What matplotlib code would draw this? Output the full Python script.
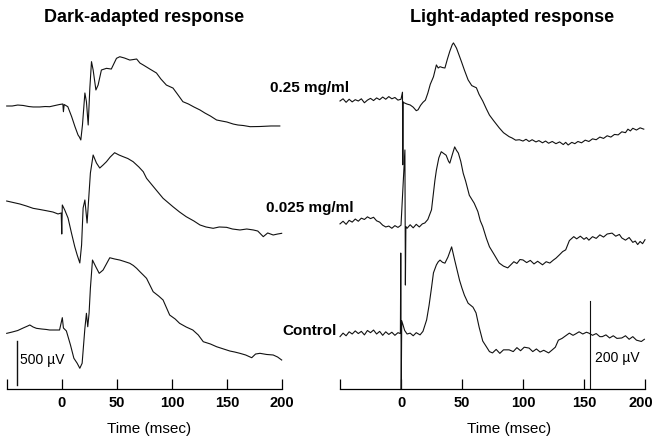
import numpy as np
import matplotlib
matplotlib.use("Agg")
import matplotlib.pyplot as plt
from matplotlib.transforms import offset_copy

plt.rcParams['font.family'] = ['Liberation Sans', 'DejaVu Sans']

# ---- dark-adapted traces (time in ms, response in uV relative to baseline) ----
dark_hi_t = [-50, -45, -40, -35, -30, -26, -20, -15, -11, -6, -2, 1, 1.5, 2.2, 5.5, 9, 12, 14.8, 16,
             17.3, 18.8, 21, 22.4, 24, 25.5, 27, 28.5, 31, 33, 36, 40.6, 45, 49.7, 52.7, 57, 61.8, 65,
             68, 71, 74, 80, 86, 90, 95, 101, 105, 110, 115, 120, 125.5, 130, 135, 140.6, 145, 150,
             155.7, 160, 165, 171, 180, 190, 198]
dark_hi_v = [0, 0, 11, 6, -6, -11, -11, -6, -8, 6, 17, 23, -65, 17, -8, -122, -235, -330, -352,
             -386, -216, 148, 49, -216, 204, 504, 409, 182, 238, 409, 428, 420, 542, 560, 545, 522, 528,
             534, 488, 466, 420, 375, 307, 238, 204, 136, 49, 23, -11, -45, -80, -114, -159, -170, -182,
             -205, -216, -222, -235, -233, -227, -227]

dark_lo_t = [-50, -44, -38, -32, -26, -20, -14, -8, -3.4, -0.5, 0, 0.5, 2.7, 5.7, 8.8, 11.8, 14, 16.4,
             18, 19.4, 21, 23, 24.8, 26, 28.5, 31.5, 34.5, 37.5, 40.6, 44, 48, 52, 55.7, 60, 64.8, 70,
             74, 77, 84.5, 92, 101, 107, 113, 120, 125.5, 131, 137.5, 143, 149.7, 155, 161.8, 168, 174,
             178, 183, 187, 192, 196, 199.7]
dark_lo_v = [102, 85, 68, 45, 19, 6, -8, -23, -45, -34, -273, 57, 0, -91, -261, -417, -511, -602,
             -398, 23, 114, -148, 193, 420, 625, 534, 477, 511, 549, 602, 651, 625, 606, 585, 549, 489,
             435, 360, 246, 133, 37, -23, -76, -125, -170, -193, -208, -193, -197, -216, -227, -216, -227,
             -239, -303, -261, -284, -273, -265]

dark_ctl_t = [-50, -45, -40, -35, -31, -29, -26, -23, -18, -14, -11, -6, -2, 0.5, 1.5, 4.2, 7.9, 11,
              14, 16.4, 18.5, 21, 22.4, 23.6, 24.8, 26, 27.9, 30.9, 34, 37.5, 40, 43.6, 48, 52.7, 57,
              61.8, 65, 68, 71, 74, 77, 83, 88, 92, 98, 103, 107, 113, 119, 124, 128.5, 135, 140.6,
              147, 152.7, 157, 161.8, 167, 172.5, 176, 180, 186, 192, 196, 199.7]
dark_ctl_v = [-38, -23, -6, 23, 45, 57, 34, 19, 11, 6, 0, 0, 0, 140, 23, -11, -170, -321,
              -378, -435, -378, 19, 190, 37, 190, 474, 795, 719, 644, 681, 738, 821, 807, 795, 778,
              758, 733, 701, 662, 625, 587, 435, 386, 341, 170, 125, 76, 34, 0, -57, -133, -159, -190,
              -216, -239, -250, -265, -284, -315, -273, -265, -278, -284, -307, -341]

# ---- light-adapted traces ----
light_hi_t = [-50, -47.5, -45, -42.5, -40, -37.5, -35, -32.5, -30, -27.5, -25, -22.5, -20, -17.5, -15,
              -12.5, -10, -7.5, -5, -2.5, 0, 1.2, 1.5, 1.8, 2.5, 5, 7.5, 10, 12.5, 14, 16, 18, 20, 22,
              24, 26.6, 29, 30.5, 32, 34, 36, 38, 40, 42, 43, 44.5, 45.5, 47.5, 49.6, 52, 55, 58, 61.8,
              64, 67, 70, 72.5, 76, 80.5, 84, 88.6, 91, 94, 97, 100, 102.5, 105, 107.5, 110.6, 113,
              116, 118.5, 121, 124, 127, 130, 133, 135, 137, 140, 142.5, 145, 148, 151, 154, 157, 160,
              163, 166, 169, 172, 175, 178, 181, 184, 186, 188, 190, 193, 196, 199]
light_hi_v = [0, 5, -3, 4, -2, 3, 0, 5, -4, 2, 6, 1, 7, 3, 9,
              4, 10, 5, 8, 2, 4, 20, -145, -2, -4, -7, -9, -14, -22, -20, -10, -3, 2, 18,
              38, 55, 82, 75, 78, 76, 75, 95, 113, 128, 132, 125, 120, 105, 89, 70, 48, 35, 30,
              15, 0, -18, -32, -45, -61, -72, -81, -84, -89, -88, -91, -87, -92, -88, -93, -90,
              -95, -91, -96, -92, -97, -93, -99, -94, -100, -94, -97, -92, -95, -89, -92, -86, -88,
              -82, -85, -79, -82, -76, -77, -70, -72, -64, -68, -62, -66, -61, -64]

light_lo_t = [-50, -47.5, -45, -42.5, -40, -37.5, -35, -32.5, -30, -27.5, -25, -22.5, -20, -17.5, -15,
              -12.5, -10, -7.5, -5, -2.5, 0, 3.2, 3.6, 4, 5, 7.5, 10, 12.5, 15, 17.5, 19.5, 22, 25,
              27.8, 29, 31, 33, 35, 37, 39, 40, 42, 44, 45.5, 47, 49, 51, 53, 56, 60, 63, 65, 67, 70,
              72.5, 76, 80.5, 84, 87.5, 90, 92.5, 95, 97.5, 100, 103, 106, 109, 112, 116, 119, 122,
              125, 127, 130, 132.5, 135, 138, 141.6, 144, 147, 150, 152, 154, 157, 160, 163, 166, 169,
              173, 176, 179, 181, 184, 187, 190, 192, 194, 196, 198, 200]
light_lo_v = [-2, 4, -3, 6, 2, 9, 4, 11, 8, 14, 10, 13, 5, 2, -5,
              -9, -7, -12, -6, -10, -5, 166, -141, -8, -12, -4, -11, -3, -9, -2, 0, 8, 30,
              97, 120, 148, 162, 158, 154, 140, 136, 155, 173, 165, 159, 140, 113, 95, 63, 45, 26, 5, -8, -35,
              -54, -70, -91, -98, -102, -95, -88, -92, -83, -84, -90, -85, -93, -87, -95, -88, -91,
              -84, -80, -72, -65, -61, -40, -31, -36, -30, -37, -33, -39, -31, -35, -27, -32, -25,
              -23, -30, -26, -34, -39, -33, -44, -41, -49, -42, -47, -38]

light_ctl_t = [-50, -47.5, -45, -42.5, -40, -37.5, -35, -32.5, -30, -27.5, -25, -22.5, -20, -17.5, -15,
               -12.5, -10, -7.5, -5, -2.5, -0.5, -0.2, 0.2, 0.6, 1.5, 3, 5, 7.5, 10, 12.5, 15.6, 18,
               21, 23, 25, 26.6, 29, 30.5, 32, 34, 36, 38.5, 41.5, 43, 44, 46, 48, 50, 52, 55, 59, 61.5,
               64, 67, 70, 72.5, 75, 78, 81, 84, 88.6, 92, 95, 98, 101, 105, 108, 111, 114, 117, 121,
               124, 126.5, 129, 132, 135, 138, 141, 143, 146, 149, 152, 154, 157, 160, 163, 165, 168,
               171, 174, 177, 181, 184, 187, 190, 193, 197, 199.5]
light_ctl_v = [-6, 2, -4, 5, 0, 7, 1, 6, -2, 8, 3, 9, 0, 6, -3,
               5, -1, 4, -3, 3, 1, 184, -125, 30, 22, 8, 0, 2, -4, 3, -2, 6,
               32, 65, 105, 139, 157, 164, 168, 163, 161, 175, 198, 180, 168, 145, 122, 104, 88, 70, 61, 48,
               16, -16, -29, -40, -43, -35, -44, -36, -36, -40, -31, -38, -30, -32, -40, -34, -41, -37, -43,
               -36, -30, -14, -10, -4, 2, -3, 0, 5, 0, 4, 2, -3, 1, -6, -6, -2,
               -9, -4, -10, -9, -4, -12, -6, -14, -17, -12]

conc_labels = ['0.25 mg/ml', '0.025 mg/ml', 'Control']
tick_pos = [-50, 0, 50, 100, 150, 200]
tick_lab = ['', '0', '50', '100', '150', '200']

W, H = 655, 441
fig = plt.figure(figsize=(W / 100, H / 100), dpi=100)

def fx(px):
    return px / W

def fy(py):
    return 1 - py / H

ax_l = fig.add_axes([fx(6.7), fy(389), fx(282 - 6.7), (389 - 20) / H])
ax_r = fig.add_axes([fx(340), fy(389), fx(645 - 340), (389 - 20) / H])

# vertical scales: uV per pixel
k_l = 500 / 44
k_r = 200 / 88
ax_l.set_ylim(0, 369 * k_l)
ax_r.set_ylim(0, 369 * k_r)

off_l = [(389 - 106) * k_l, (389 - 210) * k_l, (389 - 330) * k_l]
off_r = [(389 - 101) * k_r, (389 - 223) * k_r, (389 - 334) * k_r]

dark = [(dark_hi_t, dark_hi_v), (dark_lo_t, dark_lo_v), (dark_ctl_t, dark_ctl_v)]
light = [(light_hi_t, light_hi_v), (light_lo_t, light_lo_v), (light_ctl_t, light_ctl_v)]

for (t, v), off in zip(dark, off_l):
    ax_l.plot(t, np.array(v) + off, color='#111111', lw=0.8, clip_on=False)
for (t, v), off in zip(light, off_r):
    ax_r.plot(t, np.array(v) + off, color='#111111', lw=0.8, clip_on=False)

# scale bars
ax_l.plot([-41, -41], [45, 545], color='#111111', lw=1.0)
ax_l.text(-38, 330, '500 \u00b5V', fontsize=10, ha='left', va='center')
ax_r.plot([155, 155], [0, 200], color='#111111', lw=0.8)
ax_r.text(159, 70, '200 \u00b5V', fontsize=10, ha='left', va='center')

for ax in (ax_l, ax_r):
    ax.set_xlim(-50, 200)
    for s in ('top', 'right', 'left'):
        ax.spines[s].set_visible(False)
    ax.spines['bottom'].set_linewidth(0.9)
    ax.set_yticks([])
    ax.set_xticks(tick_pos)
    ax.set_xticklabels(tick_lab, fontsize=10.5, fontweight='bold')
    ax.tick_params(axis='x', direction='in', length=7, width=0.9, pad=5)
    ax.patch.set_visible(False)

# keep the last right-hand tick label inside the canvas
last = ax_r.get_xticklabels()[-1]
last.set_transform(offset_copy(last.get_transform(), fig=fig, x=-4, units='dots'))

fig.text(fx(149), fy(429), 'Time (msec)', fontsize=11, ha='center', va='center')
fig.text(fx(509), fy(429), 'Time (msec)', fontsize=11, ha='center', va='center')

fig.text(fx(144), fy(17), 'Dark-adapted response', fontsize=13, fontweight='bold',
         ha='center', va='center')
fig.text(fx(512), fy(18), 'Light-adapted response', fontsize=13, fontweight='bold',
         ha='center', va='center')

for lab, py in zip(conc_labels, [88, 208, 331]):
    fig.text(fx(310), fy(py), lab, fontsize=11, fontweight='bold', ha='center', va='center')

fig.savefig('out.png', dpi=100)
